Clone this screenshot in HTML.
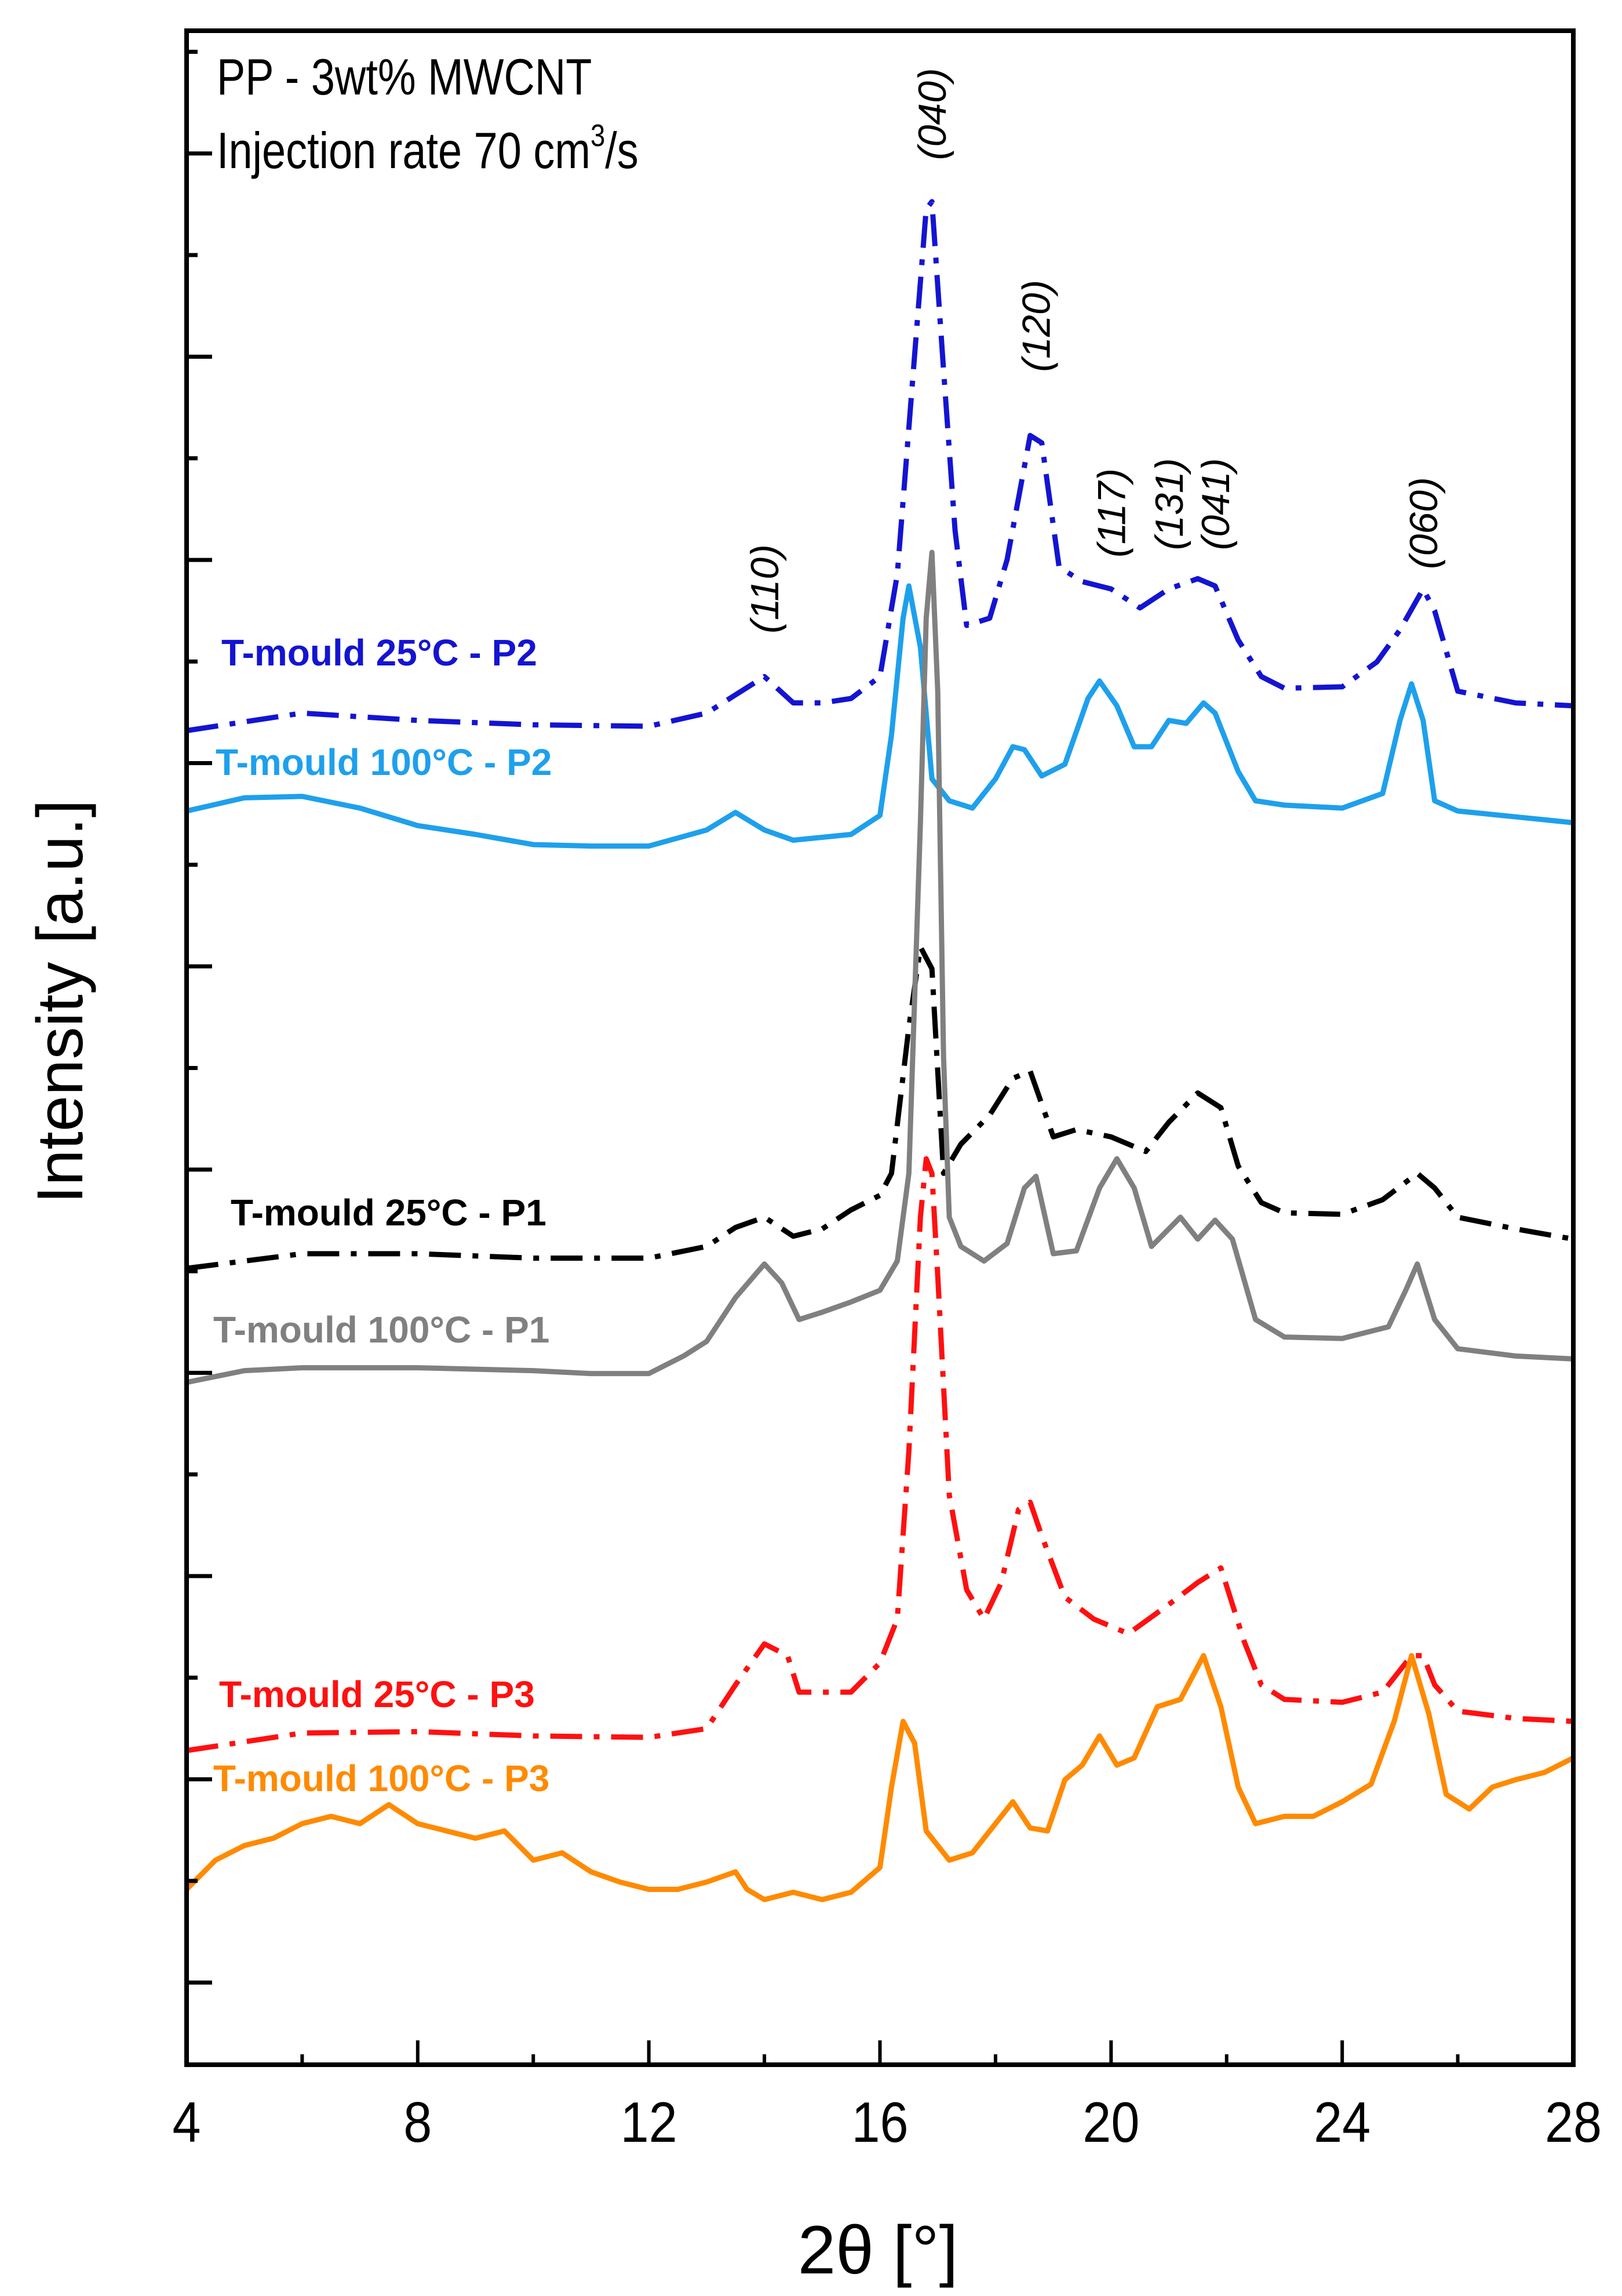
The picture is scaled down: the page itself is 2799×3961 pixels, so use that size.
<!DOCTYPE html>
<html><head><meta charset="utf-8"><style>
html,body{margin:0;padding:0;background:#fff;}
svg{display:block;font-family:"Liberation Sans",Arial,sans-serif;}
</style></head><body>
<svg id="chart" width="2799" height="3961" viewBox="0 0 2799 3961">
<rect x="0" y="0" width="2799" height="3961" fill="#fff"/>
<g id="series"></g>
<g id="axes"></g>
<g id="labels"></g>
</svg>
<script>
// ---- data ----
const xTicks = [4, 8, 12, 16, 20, 24, 28];
const p2_25_x = [4,6,8,10,12,13,13.6,14,14.5,15,15.5,16,16.3,16.6,16.8,16.9,17.1,17.3,17.5,17.9,18.2,18.6,18.8,19.1,19.5,20,20.5,21,21.5,21.8,22.2,22.6,23,24,24.6,25,25.4,25.6,26,27,28];
const p2_25_y = [913,925,920,917,916,925,940,950,932,932,935,950,1020,1170,1270,1275,1160,1050,985,990,1030,1115,1110,1025,1015,1010,997,1010,1017,1012,975,950,942,943,960,982,1010,995,940,932,930];
const p2_100_x = [4,5,6,7,8,9,10,11,12,13,13.5,14,14.5,15,15.5,16,16.2,16.4,16.5,16.7,16.9,17.2,17.6,18,18.3,18.5,18.8,19.2,19.6,19.8,20.1,20.4,20.7,21,21.3,21.6,21.8,22.2,22.5,23,24,24.7,25,25.2,25.4,25.6,26,27,28];
const p2_100_y = [858,867,868,860,848,842,835,834,834,845,857,845,838,840,842,855,910,990,1012,970,880,865,860,880,902,900,882,890,935,947,930,902,902,920,918,932,925,885,865,862,860,870,920,945,920,865,858,854,850];
const p1_25_x = [4,6,8,10,12,13,13.5,14,14.5,15,15.5,16,16.2,16.5,16.7,16.9,17.1,17.4,17.9,18.3,18.6,19,19.4,20,20.6,21,21.5,21.9,22.2,22.6,23,24,24.7,25.3,25.6,26,27,28];
const p1_25_y = [545,555,555,552,552,560,573,580,567,572,585,595,610,710,765,750,610,630,650,675,680,635,640,635,625,645,665,655,615,590,583,582,592,610,600,580,572,565];
const p1_100_x = [4,5,6,8,10,11,12,12.6,13,13.5,14,14.3,14.6,15,15.5,16,16.3,16.5,16.7,16.8,16.9,17.0,17.1,17.2,17.4,17.8,18.2,18.5,18.7,19,19.4,19.8,20.1,20.4,20.7,21,21.2,21.5,21.8,22.1,22.5,23,24,24.8,25.1,25.3,25.6,26,27,28];
const p1_100_y = [467,475,477,477,475,473,473,485,495,525,548,535,510,515,522,530,550,610,850,990,1035,940,690,580,560,550,562,600,608,555,557,600,620,600,560,572,580,565,578,565,510,498,497,505,530,548,510,490,485,483];
const p3_25_x = [4,6,8,10,12,13,13.5,14,14.4,14.6,15,15.5,16,16.3,16.5,16.7,16.8,16.9,17.0,17.2,17.5,17.8,18.1,18.4,18.6,18.8,19.2,19.7,20.3,21,21.5,21.9,22.3,22.6,23,24,24.7,25.2,25.4,25.6,26,27,28];
const p3_25_y = [215,227,228,225,224,230,260,288,280,255,255,255,275,305,420,580,620,610,540,390,325,305,330,380,385,362,320,305,295,315,330,340,290,260,250,248,255,280,280,260,242,237,235];
const p3_100_x = [4,4.5,5,5.5,6,6.5,7,7.5,8,8.5,9,9.5,10,10.5,11,11.5,12,12.5,13,13.5,13.7,14,14.5,15,15.5,16,16.2,16.4,16.6,16.8,17.2,17.6,18,18.3,18.6,18.9,19.2,19.5,19.8,20.1,20.4,20.8,21.2,21.6,21.9,22.2,22.5,23,23.5,24,24.5,24.9,25.2,25.5,25.8,26.2,26.6,27,27.5,28];
const p3_100_y = [120,140,150,155,165,170,165,178,165,160,155,160,140,145,132,125,120,120,125,132,120,113,118,113,118,135,190,235,220,160,140,145,165,180,162,160,195,205,225,205,210,245,250,280,245,190,165,170,170,180,192,235,280,240,185,175,190,195,200,210];
const peakNames = ["(110)","(040)","(120)","(117)","(131)","(041)","(060)"];
const peakPos = [14.0, 16.9, 18.7, 20.0, 21.0, 21.8, 25.4];
const peakHeights = [1010, 1335, 1190, 1062, 1068, 1068, 1055];

// ---- scales ----
const L=322, R=2715, T=53, B=3562;
const xS = v => L + (v-4)/(28-4)*(R-L);
const yS = v => B - v/1392*(B-T);
const NS="http://www.w3.org/2000/svg";
function mk(tag, parent){const e=document.createElementNS(NS,tag);parent.appendChild(e);return e;}
const gS=document.getElementById('series'), gA=document.getElementById('axes'), gL=document.getElementById('labels');

const seriesList = [
 {x:p2_25_x,y:p2_25_y,c:"#1414d2",dash:true,name:"series-25c-p2"},
 {x:p2_100_x,y:p2_100_y,c:"#1ea0ec",dash:false,name:"series-100c-p2"},
 {x:p1_25_x,y:p1_25_y,c:"#000000",dash:true,name:"series-25c-p1"},
 {x:p1_100_x,y:p1_100_y,c:"#808080",dash:false,name:"series-100c-p1"},
 {x:p3_25_x,y:p3_25_y,c:"#ff1010",dash:true,name:"series-25c-p3"},
 {x:p3_100_x,y:p3_100_y,c:"#ff8a00",dash:false,name:"series-100c-p3"}
];
seriesList.forEach(s=>{
  const p=mk('path',gS);
  
  
  p.setAttribute('d', s.x.map((v,i)=>(i?'L':'M')+xS(v).toFixed(1)+' '+yS(s.y[i]).toFixed(1)).join(''));
  p.setAttribute('fill','none');p.setAttribute('stroke',s.c);p.setAttribute('stroke-width','9');
  p.setAttribute('stroke-linejoin','round');
  if(s.dash) p.setAttribute('stroke-dasharray','55 20 10 20');
});

// frame
const fr=mk('rect',gA);


fr.setAttribute('x',L);fr.setAttribute('y',T);fr.setAttribute('width',R-L);fr.setAttribute('height',B-T);
fr.setAttribute('fill','none');fr.setAttribute('stroke','#000');fr.setAttribute('stroke-width','8');

// x ticks
for(let v=4; v<=28; v+=2){
  const major = (v%4===0);
  const t=mk('line',gA);
  
  
  t.setAttribute('x1',xS(v));t.setAttribute('x2',xS(v));
  t.setAttribute('y1',B);t.setAttribute('y2',B-(major?42:18));
  t.setAttribute('stroke','#000');t.setAttribute('stroke-width','6');
}
xTicks.forEach(v=>{
  const t=mk('text',gA);
  
  
  const x=xS(v);
  t.setAttribute('x',x);t.setAttribute('y',3695);t.setAttribute('font-size','98');
  t.setAttribute('text-anchor','middle');
  t.setAttribute('transform','translate('+x+' 0) scale(0.9 1) translate('+(-x)+' 0)');
  t.textContent=v;
});
// y ticks (no labels)
for(let i=0;i<20;i++){
  const yy = (1354 - i*69.4)*2.526;
  const t=mk('line',gA);
  
  
  t.setAttribute('x1',L);t.setAttribute('x2',L+(i%2===0?44:19));
  t.setAttribute('y1',yy);t.setAttribute('y2',yy);
  t.setAttribute('stroke','#000');t.setAttribute('stroke-width','7');
}

// peak labels
peakNames.forEach((n,i)=>{
  const t=mk('text',gL);
  
  
  const x=xS(peakPos[i])+24, y=yS(peakHeights[i]);
  t.setAttribute('x',x);t.setAttribute('y',y);t.setAttribute('font-size','68');
  t.setAttribute('font-style','italic');t.setAttribute('text-anchor','middle');
  t.setAttribute('transform','rotate(-90 '+x+' '+y+')');
  t.textContent=n;
});
</script>
<svg style="position:absolute;left:0;top:0" width="2799" height="3961">
<g font-family="Liberation Sans, Arial, sans-serif">
<text x="374" y="163" font-size="88" transform="translate(374 0) scale(0.84 1) translate(-374 0)">PP - 3wt% MWCNT</text>
<text x="374" y="290" font-size="88" transform="translate(374 0) scale(0.84 1) translate(-374 0)">Injection rate 70 cm<tspan font-size="54" dy="-38">3</tspan><tspan dy="38">/s</tspan></text>
<text x="382" y="1148" font-size="64" font-weight="bold" fill="#1414d2">T-mould 25°C - P2</text>
<text x="372" y="1337" font-size="64" font-weight="bold" fill="#1ea0ec">T-mould 100°C - P2</text>
<text x="398" y="2114" font-size="64" font-weight="bold" fill="#000">T-mould 25°C - P1</text>
<text x="368" y="2316" font-size="64" font-weight="bold" fill="#808080">T-mould 100°C - P1</text>
<text x="378" y="2945" font-size="64" font-weight="bold" fill="#ff1010">T-mould 25°C - P3</text>
<text x="368" y="3090" font-size="64" font-weight="bold" fill="#ff8a00">T-mould 100°C - P3</text>
<text x="1515" y="3922" font-size="118" text-anchor="middle">2θ [°]</text>
<text x="142" y="1728" font-size="112" text-anchor="middle" transform="rotate(-90 142 1728)">Intensity [a.u.]</text>
</g>
</svg>
</body></html>
